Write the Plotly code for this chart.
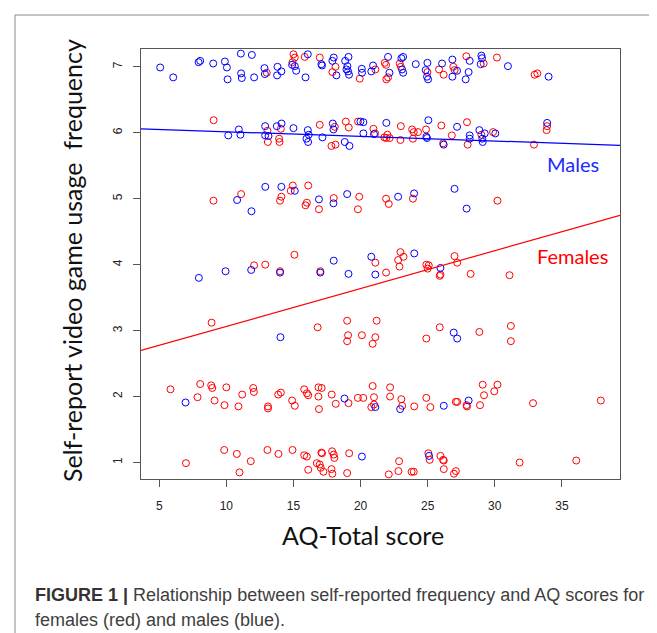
import plotly.graph_objects as go

# ---- data ----
male_x = [5.07, 6.04, 7.93, 8.05, 9.02, 9.89, 10.04, 10.09, 11.08, 11.9, 11.1, 11.15, 12.07, 12.84, 12.87,
          13.81, 13.78, 14.1, 14.9, 15.1, 15.2, 16.07, 15.9, 17.08, 17.13, 17.9, 18.0, 18.2, 18.85, 19.1,
          19.02, 18.95, 19.07, 19.14, 20.09, 20.11, 20.8, 20.93, 22.05, 22.15, 23.04, 23.17, 23.09, 23.17,
          24.11, 24.98, 24.85, 24.95, 25.03, 26.07, 26.84, 27.19, 26.84, 28.13, 28.05, 27.83, 29.0, 29.05,
          28.95, 30.98, 34.01,
          10.14, 10.93, 11.05, 12.89, 12.89, 13.14, 13.76, 14.11, 15.0, 16.07, 16.14, 15.97, 16.09, 17.16,
          17.93, 17.98, 18.82, 19.17, 19.99, 20.21, 20.21, 21.0, 21.92, 24.9, 24.95, 25.05, 26.19, 27.19,
          28.13, 28.13, 28.85, 29.07, 29.1, 29.25, 30.04, 33.9,
          10.8, 11.87, 12.9, 14.1, 15.1, 16.9, 17.98, 19.0, 22.8, 23.99, 27.0, 27.9,
          7.95, 9.94, 11.85, 14.0, 17.0, 18.0, 19.1, 20.8, 21.1, 24.0, 25.95,
          14.03, 26.94, 27.2,
          6.96, 18.8, 21.1, 22.95, 26.2, 28.05,
          20.1, 25.1]
male_y = [6.99, 6.84, 7.07, 7.09, 7.05, 7.08, 6.99, 6.81, 7.2, 7.18, 6.9, 6.83, 6.84, 6.98, 6.89,
          7.0, 6.87, 6.93, 7.03, 7.01, 6.94, 7.19, 6.84, 7.04, 7.02, 7.09, 7.14, 6.87, 7.09, 7.15,
          7.01, 6.96, 6.93, 6.88, 6.97, 6.91, 6.93, 7.02, 7.15, 6.91, 7.13, 7.15, 6.96, 6.91,
          7.04, 7.06, 6.95, 6.85, 6.81, 7.05, 7.11, 6.94, 6.85, 7.09, 6.92, 6.81, 7.17, 7.13,
          7.04, 7.01, 6.85,
          5.96, 6.05, 5.97, 6.1, 5.96, 5.95, 6.1, 6.14, 6.07, 6.04, 5.97, 5.91, 5.86, 5.93,
          6.14, 6.05, 5.86, 5.8, 6.17, 6.16, 5.99, 5.98, 6.15, 5.94, 5.92, 6.19, 5.82, 6.09,
          5.96, 5.91, 6.04, 5.91, 5.86, 5.99, 5.99, 6.15,
          4.98, 4.81, 5.18, 5.18, 5.12, 4.99, 4.93, 5.07, 5.03, 5.08, 5.15, 4.85,
          3.8, 3.9, 3.92, 3.88, 3.88, 4.06, 3.86, 4.12, 3.85, 4.17, 3.95,
          2.9, 2.97, 2.88,
          1.91, 1.97, 1.84, 1.81, 1.86, 1.94,
          1.09, 1.1]

female_x = [13.01, 15.0, 15.1, 14.93, 15.84, 16.96, 17.9, 18.13, 19.94, 21.1, 21.8, 21.9, 21.92, 22.05,
            22.92, 23.0, 24.98, 25.85, 26.19, 26.91, 27.01, 27.88, 29.17, 30.16, 32.97, 33.17,
            9.05, 13.06, 13.09, 14.06, 13.93, 13.96, 16.96, 18.08, 17.83, 18.13, 18.9, 19.12, 19.81,
            20.96, 21.08, 22.0, 21.77, 21.92, 22.17, 23.0, 22.97, 23.84, 23.96, 24.28, 23.9, 24.88,
            26.02, 26.15, 26.8, 27.93, 27.98, 29.0, 29.87, 32.92, 33.9, 33.86,
            9.04, 11.1, 14.95, 14.8, 14.1, 14.0, 16.1, 16.0, 15.9, 16.9, 18.0, 19.9, 19.8, 21.9,
            22.1, 23.9, 30.2,
            12.07, 12.9, 14.0, 15.07, 17.0, 21.1, 21.9, 22.97, 22.8, 23.2, 22.9, 24.9, 25.08, 25.0,
            25.95, 25.9, 27.0, 27.2, 28.2, 31.1,
            8.9, 16.8, 19.0, 21.2, 19.07, 19.0, 20.1, 21.1, 20.9, 24.9, 25.9, 28.85, 31.2, 31.2,
            5.84, 7.85, 8.05, 8.87, 8.95, 9.12, 9.86, 10.0, 10.9, 11.18, 12.0, 12.05, 13.1, 13.1,
            13.86, 14.06, 14.9, 15.1, 15.8, 16.0, 16.1, 16.86, 17.1, 16.86, 16.9, 17.85, 18.15, 19.1,
            19.8, 20.2, 20.9, 21.0, 21.0, 20.8, 22.2, 22.2, 23.04, 23.1, 24.0, 24.9, 25.2, 27.1,
            27.2, 27.9, 27.93, 28.9, 29.1, 29.2, 29.96, 30.2, 32.85, 37.9,
            6.99, 9.84, 10.78, 10.98, 11.82, 13.06, 13.88, 14.93, 15.8, 16.0, 16.1, 16.74, 16.96,
            17.03, 17.13, 17.08, 17.23, 17.88, 18.0, 18.05, 17.83, 17.9, 19.0, 19.15, 22.1, 22.87,
            22.82, 23.8, 23.96, 25.05, 25.15, 25.95, 26.15, 26.2, 26.2, 27.1, 26.96, 31.85, 36.07]
female_y = [6.91, 7.19, 7.14, 7.07, 7.15, 7.14, 6.92, 7.0, 6.82, 6.96, 7.06, 7.03, 6.81, 6.84,
            7.05, 7.0, 6.92, 6.96, 6.88, 7.0, 6.95, 7.16, 7.05, 7.14, 6.88, 6.9,
            6.19, 6.03, 5.86, 6.06, 5.91, 5.86, 6.12, 6.09, 5.8, 5.82, 6.17, 6.08, 6.17,
            6.06, 5.99, 5.97, 5.93, 5.92, 5.92, 6.1, 5.89, 6.05, 6.01, 6.01, 5.91, 6.05,
            6.11, 5.84, 5.96, 6.16, 5.82, 5.97, 6.01, 5.82, 6.1, 6.04,
            4.97, 5.07, 5.2, 5.12, 5.03, 4.97, 5.2, 4.94, 4.9, 4.84, 5.01, 5.03, 4.84, 5.0,
            4.92, 5.0, 4.97,
            3.99, 4.0, 3.9, 4.15, 3.9, 4.03, 3.88, 4.19, 4.07, 4.12, 3.97, 4.0, 3.99, 3.94,
            3.85, 3.83, 4.13, 4.03, 3.86, 3.84,
            3.12, 3.05, 3.15, 3.15, 2.93, 2.84, 2.93, 2.9, 2.8, 2.88, 3.05, 2.98, 3.07, 2.84,
            2.11, 1.99, 2.19, 2.17, 2.13, 1.94, 1.87, 2.14, 1.85, 2.03, 2.13, 2.07, 1.85, 1.82,
            2.03, 2.06, 1.94, 1.86, 2.11, 2.05, 2.02, 2.14, 2.13, 2.0, 1.81, 2.03, 1.89, 1.9,
            1.98, 1.98, 2.16, 1.99, 1.88, 1.84, 2.14, 2.0, 1.96, 1.86, 1.85, 1.98, 1.84, 1.92,
            1.92, 1.87, 1.85, 1.87, 2.18, 2.02, 2.08, 2.18, 1.9, 1.94,
            0.99, 1.19, 1.13, 0.85, 1.02, 1.19, 1.13, 1.19, 1.11, 1.09, 0.89, 0.99, 0.97,
            0.92, 1.14, 1.15, 0.86, 1.17, 1.12, 1.07, 0.9, 0.83, 0.84, 1.14, 0.82, 1.02,
            0.87, 0.86, 0.86, 1.14, 1.04, 1.1, 1.04, 1.03, 0.9, 0.87, 0.83, 1.0, 1.03]

# fitted regression lines (intercept, slope)
male_fit = [6.085, -0.0070]
female_fit = [2.49, 0.0574]

x_ticks = [5, 10, 15, 20, 25, 30, 35]
y_ticks = [1, 2, 3, 4, 5, 6, 7]
x_range = [3.64, 39.33]
y_range = [0.75, 7.27]

BLUE = "#0000FF"
RED = "#FF0000"

fig = go.Figure()
marker_common = dict(symbol="circle-open", size=7)
fig.add_trace(go.Scatter(x=female_x, y=female_y, mode="markers",
                         marker=dict(color=RED, line=dict(width=1, color=RED), **marker_common),
                         hoverinfo="x+y", showlegend=False))
fig.add_trace(go.Scatter(x=male_x, y=male_y, mode="markers",
                         marker=dict(color=BLUE, line=dict(width=1, color=BLUE), **marker_common),
                         hoverinfo="x+y", showlegend=False))

for fit, col in [(male_fit, BLUE), (female_fit, RED)]:
    xs = x_range
    ys = [fit[0] + fit[1] * v for v in xs]
    fig.add_trace(go.Scatter(x=xs, y=ys, mode="lines", line=dict(color=col, width=1.2),
                             hoverinfo="skip", showlegend=False))

axis_common = dict(showgrid=False, zeroline=False, showline=True, linecolor="#555555", linewidth=1,
                   mirror=True, ticks="outside", ticklen=7, tickcolor="#555555", tickwidth=1,
                   tickfont=dict(family="Liberation Sans, Arial, sans-serif", size=12, color="#222222"))

fig.update_layout(
    width=657, height=633,
    margin=dict(l=133, r=45, t=41, b=162),
    paper_bgcolor="white", plot_bgcolor="white",
    xaxis=dict(range=x_range, tickvals=x_ticks, ticktext=[str(v) for v in x_ticks],
               ticklabelstandoff=9, **axis_common),
    yaxis=dict(range=y_range, tickvals=y_ticks, ticktext=[str(v) for v in y_ticks],
               tickangle=-90, ticklabelstandoff=6, **axis_common),
)

title_font = dict(family="Lato, Open Sans, sans-serif", size=25, color="#111111")
cap_font = dict(family="Liberation Sans, Arial, sans-serif", size=18, color="#404040")
ann = [
    dict(text="Self-report video game usage  frequency", x=-0.144, y=0.507, xref="paper", yref="paper",
         textangle=-90, showarrow=False, font=title_font, xanchor="center", yanchor="middle"),
    dict(text="AQ-Total score", x=0.4635, y=-0.1302, xref="paper", yref="paper",
         showarrow=False, font=title_font, xanchor="center", yanchor="middle"),
    dict(text="Males", x=35.8, y=5.53, xref="x", yref="y", showarrow=False,
         font=dict(family="Lato, Open Sans, sans-serif", size=20, color="#1a2bff")),
    dict(text="Females", x=35.8, y=4.13, xref="x", yref="y", showarrow=False,
         font=dict(family="Lato, Open Sans, sans-serif", size=20, color=RED)),
    dict(text="<b><span style='color:#333333'>FIGURE 1 |</span></b> Relationship between self-reported frequency and AQ scores for",
         x=-0.2255, y=-0.2698, xref="paper", yref="paper", showarrow=False, xanchor="left",
         yanchor="middle", font=cap_font),
    dict(text="females (red) and males (blue).",
         x=-0.2255, y=-0.3279, xref="paper", yref="paper", showarrow=False, xanchor="left",
         yanchor="middle", font=cap_font),
]
fig.update_layout(annotations=ann)

# outer figure frame (left and top edges visible)
fx0 = (7 - 133) / 479
fy0 = 1 + (41 - 7) / 430
fig.add_shape(type="line", xref="paper", yref="paper", x0=fx0, x1=1.2, y0=fy0, y1=fy0,
              line=dict(color="#888888", width=1))
fig.add_shape(type="line", xref="paper", yref="paper", x0=fx0, x1=fx0, y0=fy0, y1=-0.5,
              line=dict(color="#888888", width=1))

fig.write_html("out.html")
